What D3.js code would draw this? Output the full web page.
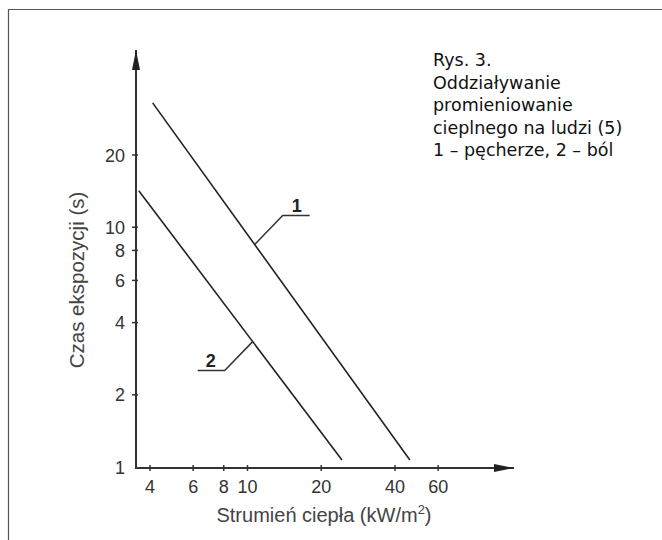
<!DOCTYPE html>
<html>
<head>
<meta charset="utf-8">
<script src="https://cdn.jsdelivr.net/npm/d3@7"></script>
<style>
  body { margin: 0; background: #fff; }
  svg { display: block; }
</style>
</head>
<body>
<div id="chart"></div>
<script>
const width = 662;
const height = 540;

// data (log-log straight lines)
const seriesNames = ['1', '2'];
const flux1 = [4.1, 46];      // kW/m2
const time1 = [33, 1.07];     // s
const flux2 = [3.6, 24.3];
const time2 = [14.2, 1.07];
const labelFlux = [10.7, 10.5];   // where the leader touches each line
const xTicks = [4, 6, 8, 10, 20, 40, 60];
const yTicks = [1, 2, 4, 6, 8, 10, 20];
const caption = ['Rys. 3.', 'Oddziaływanie', 'promieniowanie', 'cieplnego na ludzi (5)', '1 – pęcherze, 2 – ból'];

const svg = d3.select('#chart').append('svg')
  .attr('width', width)
  .attr('height', height);

// frame (top + left edge only, as in the scan)
svg.append('path')
  .attr('d', 'M8.5,540 V9.5 H662')
  .attr('fill', 'none')
  .attr('stroke', '#555')
  .attr('stroke-width', 1.2);

const x = d3.scaleLog().domain([4, 40]).range([150, 395]);
const y = d3.scaleLog().domain([1, 20]).range([467, 155]);

const x0 = 136, y0 = 468;
const font = 'Liberation Sans, Arial, sans-serif';

// arrow markers
const defs = svg.append('defs');
defs.append('marker')
  .attr('id', 'arr')
  .attr('viewBox', '0 0 20 10')
  .attr('refX', 20).attr('refY', 5)
  .attr('markerWidth', 20).attr('markerHeight', 10)
  .attr('markerUnits', 'userSpaceOnUse')
  .attr('orient', 'auto')
  .append('path')
  .attr('d', 'M0,1 L20,5 L0,9 Z')
  .attr('fill', '#222');

// axes
svg.append('line')
  .attr('x1', x0).attr('y1', y0)
  .attr('x2', x0).attr('y2', 50)
  .attr('stroke', '#333').attr('stroke-width', 2)
  .attr('marker-end', 'url(#arr)');
svg.append('line')
  .attr('x1', x0 - 1).attr('y1', y0)
  .attr('x2', 514).attr('y2', y0)
  .attr('stroke', '#333').attr('stroke-width', 2)
  .attr('marker-end', 'url(#arr)');

// ticks
const tickCol = '#333';
svg.append('g').selectAll('line')
  .data(xTicks)
  .join('line')
    .attr('x1', d => x(d)).attr('x2', d => x(d))
    .attr('y1', y0 - 3).attr('y2', y0 + 3)
    .attr('stroke', tickCol).attr('stroke-width', 1.5);
svg.append('g').selectAll('text')
  .data(xTicks)
  .join('text')
    .attr('x', d => x(d))
    .attr('y', y0 + 25)
    .attr('text-anchor', 'middle')
    .attr('font-family', font)
    .attr('font-size', 18)
    .attr('fill', '#333')
    .text(d => d);

svg.append('g').selectAll('line')
  .data(yTicks.filter(d => d > 1))
  .join('line')
    .attr('x1', x0 - 4).attr('x2', x0 + 2)
    .attr('y1', d => y(d)).attr('y2', d => y(d))
    .attr('stroke', tickCol).attr('stroke-width', 1.5);
svg.append('g').selectAll('text')
  .data(yTicks)
  .join('text')
    .attr('x', 125)
    .attr('y', d => y(d) + 6.5)
    .attr('text-anchor', 'end')
    .attr('font-family', font)
    .attr('font-size', 18)
    .attr('fill', '#333')
    .text(d => d);

// axis titles
svg.append('text')
  .attr('x', 324).attr('y', 522)
  .attr('text-anchor', 'middle')
  .attr('font-family', font)
  .attr('font-size', 20)
  .attr('fill', '#444')
  .html('Strumień ciepła (kW/m<tspan font-size="13" dy="-8">2</tspan><tspan dy="8">)</tspan>');
svg.append('text')
  .attr('transform', 'translate(84,280) rotate(-90)')
  .attr('text-anchor', 'middle')
  .attr('font-family', font)
  .attr('font-size', 20.5)
  .attr('fill', '#444')
  .text('Czas ekspozycji (s)');

// series lines
const series = [
  {name: seriesNames[0], pts: flux1.map((f, i) => [f, time1[i]])},
  {name: seriesNames[1], pts: flux2.map((f, i) => [f, time2[i]])}
];
const line = d3.line().x(d => x(d[0])).y(d => y(d[1]));
svg.append('g').selectAll('path')
  .data(series)
  .join('path')
    .attr('d', d => line(d.pts))
    .attr('fill', 'none')
    .attr('stroke', '#222')
    .attr('stroke-width', 1.6);

// value of a log-log straight line at flux f
function timeAt(pts, f) {
  const [a, b] = pts;
  const t = (Math.log(f) - Math.log(a[0])) / (Math.log(b[0]) - Math.log(a[0]));
  return Math.exp(Math.log(a[1]) + t * (Math.log(b[1]) - Math.log(a[1])));
}

// leader lines with numbers
const dirs = [1, -1];
series.forEach((s, i) => {
  const f = labelFlux[i];
  const px = x(f), py = y(timeAt(s.pts, f));
  const k = dirs[i];
  svg.append('path')
    .attr('d', `M${px},${py} l${28 * k},${-29 * k} h${27 * k}`)
    .attr('fill', 'none')
    .attr('stroke', '#333')
    .attr('stroke-width', 1.5);
  svg.append('text')
    .attr('x', px + 42 * k)
    .attr('y', py - 29 * k - 4)
    .attr('text-anchor', 'middle')
    .attr('font-family', font)
    .attr('font-weight', 'bold')
    .attr('font-size', 18)
    .attr('fill', '#222')
    .text(s.name);
});

// caption
svg.append('g').selectAll('text')
  .data(caption)
  .join('text')
    .attr('x', 433)
    .attr('y', (d, i) => 66 + i * 22.5)
    .attr('font-family', 'DejaVu Sans, sans-serif')
    .attr('font-size', 17.5)
    .attr('fill', '#111')
    .text(d => d);
</script>
</body>
</html>
